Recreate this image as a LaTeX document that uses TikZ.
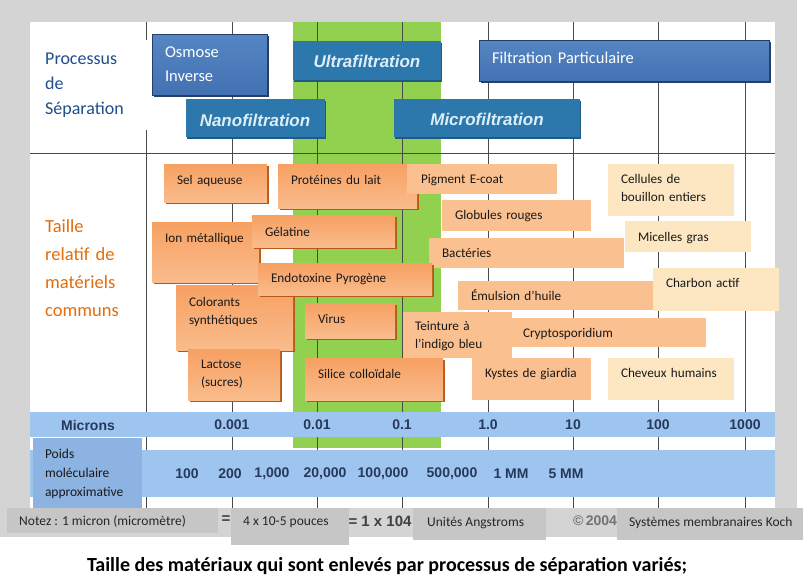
\documentclass[tikz,border=0pt]{standalone}
\usepackage{fontspec}
\setmainfont{Carlito}
\newfontfamily\arialf{Liberation Sans}
\usetikzlibrary{shadows}
\definecolor{bggray}{HTML}{D4D4D4}
\definecolor{footgray}{HTML}{C6C6C6}
\definecolor{gridc}{HTML}{4A4A4A}
\definecolor{greenb}{HTML}{92D050}
\definecolor{bandblue}{HTML}{9EC5F0}
\definecolor{poidsblue}{HTML}{8DB3E2}
\definecolor{numblue}{HTML}{26395C}
\definecolor{procblue}{HTML}{2C78AC}
\definecolor{procshadow}{HTML}{1E5A86}
\definecolor{proctext}{HTML}{DDEEF8}
\definecolor{gradtop}{HTML}{5585C2}
\definecolor{gradmid}{HTML}{8CB0DE}
\definecolor{gradbot}{HTML}{4272B2}
\definecolor{gradshadow}{HTML}{24406A}
\definecolor{otop}{HTML}{F7A062}
\definecolor{omid}{HTML}{F58F42}
\definecolor{obot}{HTML}{F9BC8C}
\definecolor{obrown}{HTML}{B5591A}
\definecolor{peach}{HTML}{FBC08F}
\definecolor{pale}{HTML}{FDE6C2}
\definecolor{titleblue}{HTML}{1F4E8C}
\definecolor{titleorange}{HTML}{E46C0A}
\tikzset{
  boxbase/.style={anchor=north west, inner sep=0pt, outer sep=0pt},
  obox/.style={boxbase, top color=otop, middle color=omid, bottom color=obot,
    drop shadow={shadow xshift=2pt, shadow yshift=-2pt, fill=obrown, opacity=1}},
  pbox/.style={boxbase, fill=peach},
  ybox/.style={boxbase, fill=pale},
  gbox/.style={boxbase, top color=gradtop, middle color=gradmid, bottom color=gradbot,
    draw=gradshadow, line width=0.6pt,
    drop shadow={shadow xshift=1.5pt, shadow yshift=-2pt, fill=gradshadow, opacity=1}},
  fbox/.style={boxbase, fill=procblue,
    drop shadow={shadow xshift=1pt, shadow yshift=-1.5pt, fill=procshadow, opacity=1}},
  lbl/.style={inner sep=0pt, outer sep=0pt, text width=150pt, align=left,
    font=\fontsize{13.2}{18.5}\selectfont, text=black!90},
  glbl/.style={inner sep=0pt, outer sep=0pt, text width=250pt, align=left,
    font=\fontsize{16.5}{24}\selectfont, text=white},
  proclbl/.style={inner sep=0pt, font=\arialf\bfseries\itshape\fontsize{17}{19}\selectfont, text=proctext},
  numlbl/.style={inner sep=0pt, font=\arialf\bfseries\fontsize{14}{16}\selectfont, text=numblue},
  footbox/.style={anchor=north west, inner sep=0pt, outer sep=0pt, fill=footgray},
  footlbl/.style={inner sep=0pt, anchor=west, font=\fontsize{13.5}{15}\selectfont, text=black!85},
  footbold/.style={inner sep=0pt, font=\arialf\bfseries\fontsize{15}{16}\selectfont, text=black!75},
  gridline/.style={draw=gridc, line width=0.7pt}
}
\newcommand\bx[9]{%
  \node[#1, minimum width={#5-#3}, minimum height={#6-#4}] (#2) at (#3,#4) {};
  \node[#1 label, anchor=base west] (#2t) at (#7,#8) {#9};}
\tikzset{obox label/.style={lbl}, pbox label/.style={lbl}, ybox label/.style={lbl}, gbox label/.style={glbl}}
\begin{document}
\begin{tikzpicture}[x=1pt,y=-1pt]
\useasboundingbox (0,0) rectangle (803,579);
% backgrounds
\fill[bggray] (0,0) rectangle (797,537);
\fill[white] (30,22) rectangle (775,508);
\fill[greenb] (293,22) rectangle (441,448);
% grid
\foreach \gx in {146,232,317,402,488,573,658,745}
  \draw[gridline] (\gx,22) -- (\gx,508);
\draw[gridline] (30,153) -- (775,153);
\fill[white] (31,40) rectangle (150,130);
% left titles
\node[inner sep=0pt, anchor=base west, text width=110pt, align=left,
  font=\fontsize{18}{25.2}\selectfont, text=titleblue] (proc) at (45,64) {Processus\\de\\Séparation};
\node[inner sep=0pt, anchor=base west, text width=110pt, align=left,
  font=\fontsize{18.5}{28}\selectfont, text=titleorange] (taille) at (45,232) {Taille\\relatif de\\matériels\\communs};
% process boxes
\bx{gbox}{osm}{152}{34}{267}{95}{165}{57}{Osmose\\Inverse}
\node[fbox, minimum width=139, minimum height=38] (nano) at (186,99) {};
\node[proclbl] (nanot) at (255,120) {Nanofiltration};
\node[fbox, minimum width=148, minimum height=39] (ultra) at (293,41) {};
\node[proclbl] (ultrat) at (367,61) {Ultrafiltration};
\node[fbox, minimum width=186, minimum height=38] (micro) at (394,99) {};
\node[proclbl] (microt) at (487,119) {Microfiltration};
\bx{gbox}{filt}{479}{40}{769}{81}{492}{63}{Filtration Particulaire}
% peach and pale boxes
\bx{pbox}{bact}{429}{238}{624}{268}{442}{257}{Bactéries}
\bx{pbox}{glob}{442}{200}{591}{231}{455}{219}{Globules rouges}
\bx{pbox}{emul}{458}{281}{655}{310}{471}{300}{Émulsion d’huile}
\bx{pbox}{crypto}{512}{318}{706}{347}{523}{337}{Cryptosporidium}
\bx{pbox}{teint}{403}{312}{512}{358}{415}{330}{Teinture à\\l’indigo bleu}
\bx{pbox}{kystes}{472}{358}{591}{400}{485}{377}{Kystes de giardia}
\bx{ybox}{cell}{608}{164}{734}{216}{621}{183}{Cellules de\\bouillon entiers}
\bx{ybox}{mic}{625}{221}{751}{252}{638}{241}{Micelles gras}
\bx{ybox}{charbon}{653}{268}{779}{311}{666}{287}{Charbon actif}
\bx{ybox}{chev}{608}{358}{734}{400}{621}{377}{Cheveux humains}
% orange boxes
\bx{obox}{sel}{164}{164}{267}{202}{177}{184}{Sel aqueuse}
\bx{obox}{prot}{278}{164}{417}{208}{291}{184}{Protéines du lait}
\bx{obox}{ion}{152}{222}{259}{282}{165}{242}{Ion métallique}
\bx{obox}{gel}{252}{215}{395}{247}{265}{236}{Gélatine}
\bx{obox}{color}{176}{285}{293}{350}{189}{306}{Colorants\\synthétiques}
\bx{obox}{endo}{258}{263}{432}{295}{271}{282}{Endotoxine Pyrogène}
\bx{obox}{lact}{188}{349}{280}{400}{201}{368}{Lactose\\(sucres)}
\bx{obox}{virus}{305}{303}{395}{338}{318}{323}{Virus}
\bx{obox}{silice}{305}{358}{443}{400}{318}{378}{Silice colloïdale}
\bx{pbox}{pig}{407}{164}{557}{194}{421}{183}{Pigment E-coat}
% microns band
\fill[bandblue] (30,412) rectangle (775,437);
\node[numlbl] (microns) at (88,425) {Microns};
\foreach \gx/\lab [count=\i] in {232/0.001,317/0.01,402/0.1,488/1.0,573/10,658/100,745/1000}
  \node[numlbl] (mu\i) at (\gx,425) {\lab};
% molecular weight band
\fill[bandblue] (30,450) rectangle (775,497);
\node[boxbase, fill=poidsblue, minimum width=109, minimum height=70] (poids) at (33,438) {};
\node[lbl, anchor=base west, font=\fontsize{13.5}{19}\selectfont] (poidst) at (45,458) {Poids\\moléculaire\\approximative};
\foreach \gx/\lab [count=\i] in {187/100,230/200,272/{1,000},325/{20,000},383/{100,000},452/{500,000},511/1 MM,566/5 MM}
  \node[numlbl] (mw\i) at (\gx,474) {\lab};
% footer
\node[footbox, minimum width=211, minimum height=25] (note) at (7,508) {};
\node[footlbl] (notet) at (19,521) {Notez : 1 micron (micromètre)};
\node[footbold] (eq1) at (226,520) {=};
\node[footbox, minimum width=118, minimum height=37] (pouces) at (231,508) {};
\node[footlbl] (poucest) at (243,522) {4 x 10-5 pouces};
\node[footbold] (eq2) at (380,521) {= 1 x 104};
\node[footbox, minimum width=133, minimum height=32] (ang) at (413,508) {};
\node[footlbl] (angt) at (427,523) {Unités Angstroms};
\node[footbold, text=black!55, font=\arialf\bfseries\fontsize{14}{15}\selectfont] (copy) at (595,521) {©\,2004};
\node[footbox, minimum width=186, minimum height=32] (koch) at (617,508) {};
\node[footlbl] (kocht) at (629,523) {Systèmes membranaires Koch};
% caption
\node[inner sep=0pt, font=\bfseries\fontsize{20}{22}\selectfont] (caption) at (387,566) {Taille des matériaux qui sont enlevés par processus de séparation variés;};
\end{tikzpicture}
\end{document}
